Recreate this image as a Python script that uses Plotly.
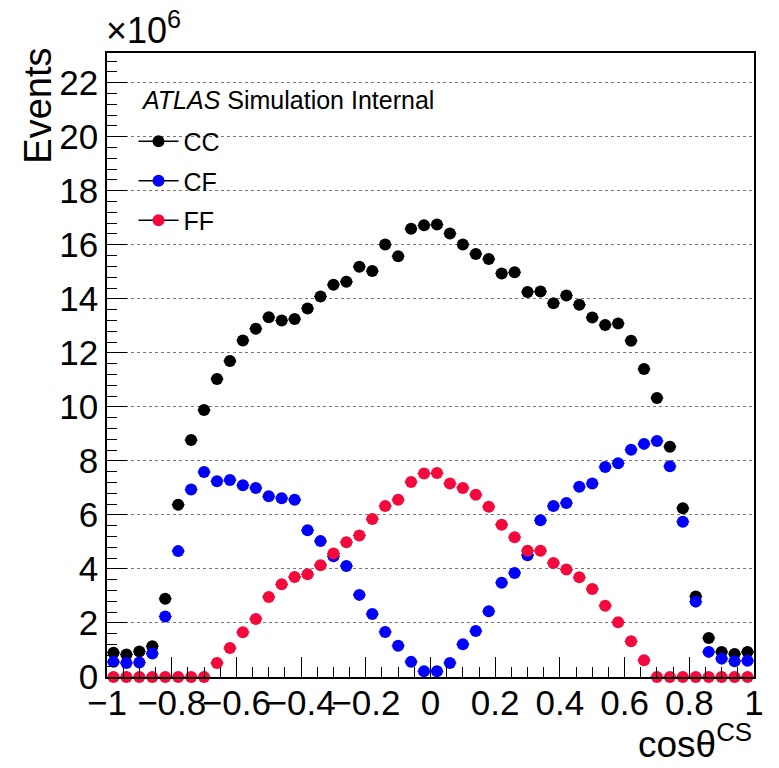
import numpy as np
import plotly.graph_objects as go

# ---- data (values in units of 10^6 events) ----
n_bins = 50
x_min, x_max = -1.0, 1.0
cc_values = [0.90, 0.83, 0.94, 1.14, 2.90, 6.38, 8.77, 9.88, 11.03, 11.70,
             12.46, 12.89, 13.32, 13.20, 13.25, 13.64, 14.09, 14.52, 14.63, 15.19,
             15.03, 16.01, 15.58, 16.59, 16.72, 16.75, 16.42, 16.01, 15.66, 15.47,
             14.94, 14.98, 14.25, 14.27, 13.84, 14.12, 13.78, 13.31, 13.03, 13.09,
             12.45, 11.40, 10.33, 8.52, 6.25, 2.98, 1.44, 0.93, 0.85, 0.93]
cf_values = [0.56, 0.52, 0.54, 0.87, 2.24, 4.66, 6.94, 7.59, 7.25, 7.29,
             7.10, 7.00, 6.69, 6.62, 6.56, 5.43, 5.03, 4.47, 4.11, 3.04,
             2.33, 1.67, 1.16, 0.56, 0.21, 0.21, 0.52, 1.21, 1.70, 2.43,
             3.49, 3.85, 4.51, 5.80, 6.33, 6.44, 7.04, 7.16, 7.77, 7.91,
             8.41, 8.63, 8.74, 7.80, 5.75, 2.79, 0.93, 0.68, 0.58, 0.60]
ff_values = [0.00, 0.00, 0.00, 0.00, 0.00, 0.00, 0.00, 0.00, 0.52, 1.07,
             1.66, 2.15, 2.96, 3.43, 3.70, 3.80, 4.14, 4.57, 4.99, 5.24,
             5.85, 6.33, 6.56, 7.22, 7.53, 7.55, 7.16, 7.00, 6.75, 6.30,
             5.64, 5.17, 4.67, 4.67, 4.22, 3.98, 3.69, 3.26, 2.64, 2.03,
             1.32, 0.62, 0.00, 0.00, 0.00, 0.00, 0.00, 0.00, 0.00, 0.00]
series_names = ["CC", "CF", "FF"]
series_colors = ["#000000", "#0000ff", "#f5083c"]

x_tick_vals = [-1, -0.8, -0.6, -0.4, -0.2, 0, 0.2, 0.4, 0.6, 0.8, 1]
x_tick_text = ["\u22121", "\u22120.8", "\u22120.6", "\u22120.4", "\u22120.2", "0",
               "0.2", "0.4", "0.6", "0.8", "1"]
y_tick_vals = [0, 2, 4, 6, 8, 10, 12, 14, 16, 18, 20, 22]

edges = np.linspace(x_min, x_max, n_bins + 1)
centers = 0.5 * (edges[:-1] + edges[1:])
half_width = 0.5 * (edges[1] - edges[0])

FONT = "Liberation Sans, Arial, Helvetica, sans-serif"

fig = go.Figure()
for name, vals, col in zip(series_names, [cc_values, cf_values, ff_values], series_colors):
    fig.add_trace(go.Scatter(
        x=centers, y=vals, mode="markers", name=name, cliponaxis=False,
        marker=dict(color=col, size=12, line=dict(width=0)),
        error_x=dict(type="constant", value=half_width, color="black",
                     thickness=1, width=0),
        showlegend=False,
    ))
    # legend entry styled like ROOT: black line with coloured marker
    fig.add_trace(go.Scatter(
        x=[None], y=[None], mode="lines+markers", name=name,
        marker=dict(color=col, size=12),
        line=dict(color="black", width=1.5),
        legendgroup=name, showlegend=True,
    ))

axis_common = dict(
    showline=True, linecolor="black", linewidth=1.5, mirror=True,
    ticks="inside", ticklen=20, tickwidth=1.2, tickcolor="black",
    tickfont=dict(family=FONT, size=35, color="black"),
    zeroline=False,
)

fig.update_xaxes(
    range=[x_min, x_max], tickvals=x_tick_vals, ticktext=x_tick_text,
    tickangle=0, showgrid=False, ticklabelstandoff=-6,
    minor=dict(ticks="inside", ticklen=10, dtick=0.05, tick0=-1,
               tickcolor="black", tickwidth=1, showgrid=False),
    **axis_common,
)
fig.update_yaxes(
    range=[0, 23.1], tickvals=y_tick_vals,
    showgrid=True, gridcolor="#777777", gridwidth=1, griddash="dot",
    minor=dict(ticks="inside", ticklen=10, dtick=0.4, tick0=0,
               tickcolor="black", tickwidth=1, showgrid=False),
    **axis_common,
)

# white legend background box that hides the grid behind the legend
fig.add_shape(type="rect", xref="paper", yref="paper",
              x0=0.003, x1=0.416, y0=0.716, y1=0.893,
              fillcolor="white", line=dict(width=0), layer="between")

fig.update_layout(
    width=779, height=768,
    margin=dict(l=107, r=25, t=53, b=91),
    paper_bgcolor="white", plot_bgcolor="white",
    font=dict(family=FONT, color="black"),
    showlegend=True,
    legend=dict(x=0.041, y=0.895, xanchor="left", yanchor="top",
                bgcolor="rgba(0,0,0,0)", borderwidth=0,
                font=dict(family=FONT, size=25, color="black"),
                tracegroupgap=4, traceorder="grouped", itemwidth=40),
    annotations=[
        dict(text="<i>ATLAS</i> Simulation Internal", xref="paper", yref="paper",
             x=0.05, y=0.925, xanchor="left", yanchor="middle", showarrow=False,
             font=dict(family=FONT, size=25, color="black")),
        dict(text="Events", xref="paper", yref="paper", textangle=-90,
             x=-0.108, y=1.012, xanchor="center", yanchor="top", showarrow=False,
             font=dict(family=FONT, size=38, color="black")),
        dict(text="\u00d710<sup>6</sup>", xref="paper", yref="paper",
             x=-0.004, y=1.0, xanchor="left", yanchor="bottom", showarrow=False,
             font=dict(family=FONT, size=36, color="black")),
        dict(text="cos\u03b8<sup>CS</sup>", xref="paper", yref="paper",
             x=1.0, y=-0.145, xanchor="right", yanchor="bottom", showarrow=False,
             font=dict(family=FONT, size=37, color="black")),
    ],
)

fig.write_html("out.html",
               config={"displayModeBar": False},
               post_script="document.body.style.margin='0px';"
                           "document.body.style.overflow='hidden';")
